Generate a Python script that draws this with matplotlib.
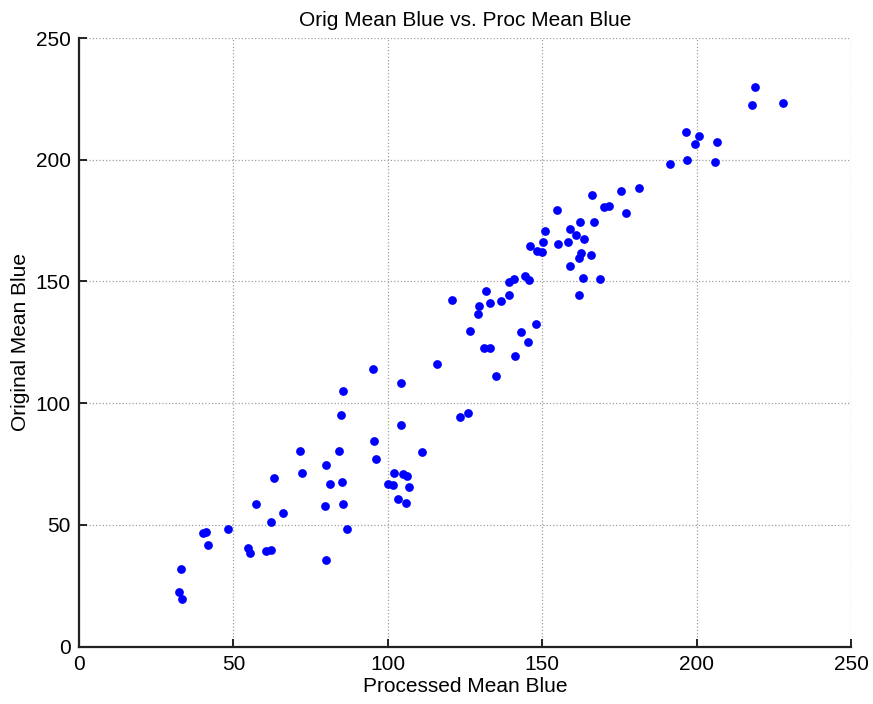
import matplotlib
matplotlib.use("Agg")
from matplotlib import pyplot as plt

# Processed mean blue (x) vs original mean blue (y)
proc_blue = [
    32.9, 32.4, 33.4, 40.0, 41.2, 41.8, 48.2, 54.7, 55.4, 57.3,
    60.6, 62.3, 62.2, 63.1, 66.2, 71.4, 72.2, 79.9, 79.6, 80.0,
    81.3, 84.2, 84.7, 85.1, 85.5, 85.5, 86.9, 95.3, 95.6, 96.1,
    100.0, 101.5, 101.9, 103.3, 104.1, 104.1, 104.9, 105.8, 106.3, 106.8,
    110.9, 115.9, 120.9, 123.5, 125.9, 126.5, 129.4, 129.2, 131.0, 131.9,
    133.1, 133.0, 134.9, 136.5, 139.2, 139.2, 140.7, 141.3, 143.0, 144.5,
    145.7, 145.5, 145.9, 147.8, 148.4, 149.9, 150.2, 150.9, 154.6, 155.0,
    158.2, 158.9, 159.1, 160.9, 161.8, 162.0, 162.1, 162.4, 163.2, 163.6,
    165.8, 166.0, 166.6, 168.8, 170.0, 171.7, 175.6, 177.1, 181.2, 191.3,
    196.5, 196.8, 199.5, 200.8, 205.9, 206.5, 217.9, 218.8, 228.0,
]
orig_blue = [
    32.0, 22.4, 19.7, 46.6, 46.9, 41.7, 48.5, 40.7, 38.4, 58.4,
    39.1, 39.8, 51.2, 69.2, 54.7, 80.4, 71.5, 74.7, 57.6, 35.4,
    66.8, 80.4, 95.0, 67.7, 58.4, 105.0, 48.5, 114.0, 84.5, 77.0,
    67.0, 66.5, 71.5, 60.8, 91.1, 108.2, 70.8, 59.2, 70.0, 65.5,
    80.1, 115.9, 142.5, 94.3, 96.0, 129.7, 139.9, 136.8, 122.5, 146.2,
    122.8, 141.0, 111.3, 142.1, 144.4, 149.6, 151.0, 119.3, 129.2, 152.1,
    150.8, 125.3, 164.7, 132.6, 162.7, 161.9, 166.2, 170.9, 179.3, 165.4,
    166.1, 171.7, 156.3, 169.0, 159.7, 144.4, 174.5, 161.6, 151.6, 167.5,
    160.8, 185.4, 174.5, 151.2, 180.7, 181.1, 187.2, 178.1, 188.2, 198.4,
    211.5, 200.0, 206.3, 209.9, 199.1, 207.1, 222.4, 229.9, 223.3,
]

ticks = [0, 50, 100, 150, 200, 250]

plt.rcParams['font.family'] = ['Liberation Sans', 'DejaVu Sans']

fig = plt.figure(figsize=(8.73, 7.04), dpi=100)
ax = fig.add_axes([0.0905, 0.0815, 0.8845, 0.8645])

ax.plot(proc_blue, orig_blue, linestyle='none', marker='o', markersize=6.3,
        color=(0, 0, 1), markeredgewidth=0)

ax.set_xlim(0, 250)
ax.set_ylim(0, 250)
ax.set_xticks(ticks)
ax.set_yticks(ticks)
ax.grid(True, linestyle=':', color='#a0a0a0', linewidth=0.9)
ax.set_axisbelow(True)

ax.spines['top'].set_visible(False)
ax.spines['right'].set_visible(False)
for side in ['left', 'bottom']:
    ax.spines[side].set_linewidth(1.6)
    ax.spines[side].set_color('#222222')
ax.tick_params(direction='in', length=6, width=1.4, color='#222222',
               labelsize=15, pad=6)

ax.set_title('Orig Mean Blue vs. Proc Mean Blue', fontsize=15, pad=9)
ax.set_xlabel('Processed Mean Blue', fontsize=15, labelpad=2)
ax.set_ylabel('Original Mean Blue', fontsize=15, labelpad=4)

fig.savefig('out.png')
